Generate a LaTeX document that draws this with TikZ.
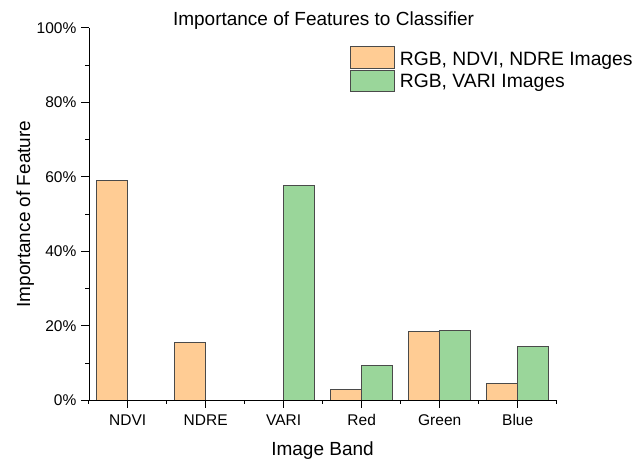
\documentclass[tikz,border=0pt]{standalone}
\usepackage{fontspec}
\setmainfont{Liberation Sans}
\definecolor{barorange}{HTML}{FFCC94}
\definecolor{bargreen}{HTML}{9AD69A}
\definecolor{baredge}{HTML}{4A4A4A}
\begin{document}
\begin{tikzpicture}[x=1pt,y=-1pt,
  orangebar/.style={fill=barorange,draw=baredge,line width=0.9pt},
  greenbar/.style={fill=bargreen,draw=baredge,line width=0.9pt},
  axisline/.style={draw=black,line width=1.2pt},
  ticklabel/.style={inner sep=0pt,font=\fontsize{15.5}{17}\selectfont},
  biglabel/.style={inner sep=0pt,font=\fontsize{19}{22}\selectfont},
  legendtext/.style={inner sep=0pt,anchor=base west,font=\fontsize{19.3}{22}\selectfont}]
\useasboundingbox (0,0) rectangle (637,458);
% scale: 0% at y=400.3, 100% at 27.8
\def\yz{400.3}
\def\ys{3.725}
% bars: orange [c-31,c], green [c,c+31]
\foreach \c/\o/\g in {127.7/58.9/0, 205.7/15.6/0, 283.7/0/57.8, 361.7/2.8/9.3, 439.7/18.5/18.7, 517.7/4.4/14.5}{
  \ifdim\o pt>0pt
    \path[orangebar] (\c-31,\yz) rectangle (\c,\yz-\o*\ys);
  \fi
  \ifdim\g pt>0pt
    \path[greenbar] (\c,\yz) rectangle (\c+31,\yz-\g*\ys);
  \fi
}
% axes
\coordinate (origin) at (89.3,\yz);
\coordinate (ytop) at (89.3,27.8);
\coordinate (xend) at (556.7,\yz);
\draw[axisline] (ytop) -- (origin) -- (xend);
% y ticks
\foreach \v in {0,20,40,60,80,100}{
  \draw[line width=1.1pt] (81,\yz-\v*\ys) -- (89.3,\yz-\v*\ys);
  \node[ticklabel,anchor=east] (yl\v) at (76.5,\yz-\v*\ys) {\v\%};
}
\foreach \v in {10,30,50,70,90}{
  \draw[line width=1.1pt] (85.3,\yz-\v*\ys) -- (89.3,\yz-\v*\ys);
}
% x ticks
\foreach \c/\t in {127.7/NDVI, 205.7/NDRE, 283.7/VARI, 361.7/Red, 439.7/Green, 517.7/Blue}{
  \draw[line width=1.1pt] (\c,\yz) -- (\c,\yz+8);
  \node[ticklabel,anchor=base] (xl\t) at (\c,425.3) {\t};
}
\foreach \m in {88.7,166.7,244.7,322.7,400.7,478.7,556.7}{
  \draw[line width=1.1pt] (\m,\yz) -- (\m,\yz+4);
}
% labels
\node[biglabel,anchor=base] (title) at (323.5,25.7) {Importance of Features to Classifier};
\node[biglabel,anchor=base] (xlabel) at (322.5,455) {Image Band};
\node[biglabel,anchor=base,rotate=90] (ylabel) at (30,214) {Importance of Feature};
% legend
\path[orangebar] (350.3,46.7) rectangle (394.3,68.3);
\path[greenbar] (350.3,70.7) rectangle (394.3,91.7);
\node[legendtext] (leg1) at (399.7,65) {RGB, NDVI, NDRE Images};
\node[legendtext] (leg2) at (399.7,87.5) {RGB, VARI Images};
\end{tikzpicture}
\end{document}
